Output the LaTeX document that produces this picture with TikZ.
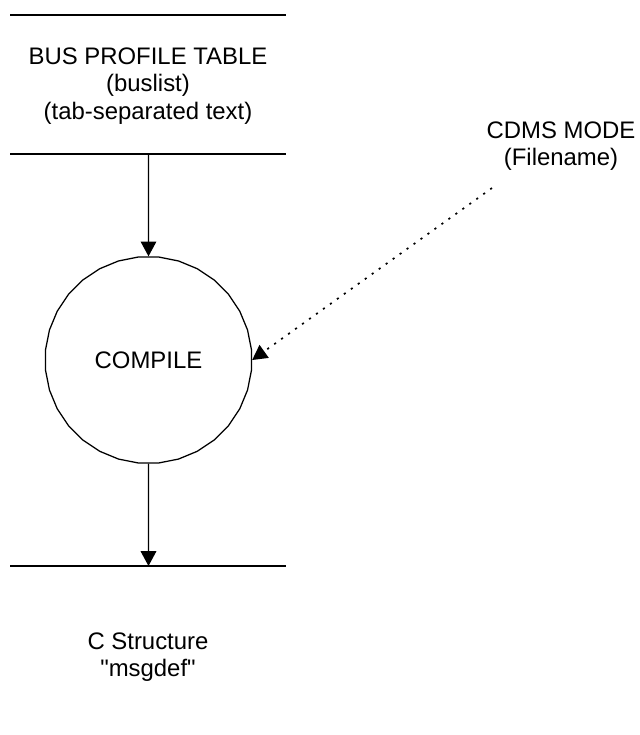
\documentclass[tikz,border=0pt]{standalone}
\usepackage{fontspec}
\setmainfont{Liberation Sans}
\usetikzlibrary{arrows.meta, shapes.geometric}
\tikzset{
  flujo/.style   = {-{Triangle[length=3.7mm, width=3.9mm]}, black, line width=0.9pt},
  control/.style = {flujo, line width=1.2pt, dash pattern=on 1.5pt off 4.6pt},
  almacen/.style = {black, line width=0.9pt},
  proceso/.style = {draw, black, line width=0.9pt, regular polygon, regular polygon sides=32,
                    minimum size=5.175cm, inner sep=0pt},
  texto/.style   = {align=center, inner sep=0pt}
}

\begin{document}
\begin{tikzpicture}[x=0.25mm, y=-0.25mm, font=\fontsize{17}{19.7}\selectfont]
  \useasboundingbox (0,0) rectangle (640,735);

  % almacen de entrada
  \draw[almacen] (10,15) -- (286,15);
  \draw[almacen] (10,154) -- (286,154);
  \node[texto] (tabla) at (148,86) {BUS PROFILE TABLE\\(buslist)\\(tab-separated text)};
  \coordinate (salida) at (148.5,154);

  % proceso
  \node[proceso] (compilar) at (148.5,360) {COMPILE};

  % almacen de salida
  \draw[almacen] (10,566) -- (286,566);
  \coordinate (entrada) at (148.5,566);
  \node[texto] (estructura) at (148,657) {C Structure\\\textquotedbl msgdef\textquotedbl};

  % modo externo
  \node[texto] (modo) at (561,146) {CDMS MODE\\(Filename)};
  \coordinate (punta) at (492,188);

  \draw[flujo] (salida) -- (compilar.north);
  \draw[flujo] (compilar.south) -- (entrada);
  \draw[control] (punta) -- (compilar.east);
\end{tikzpicture}
\end{document}
